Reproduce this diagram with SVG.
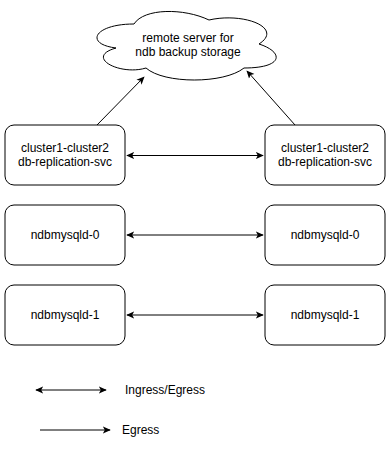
<svg xmlns="http://www.w3.org/2000/svg" width="392" height="451" viewBox="0 0 392 451">
<style>
.box{fill:#fff;stroke:#000;stroke-width:1}
.lbl{font-family:"Liberation Sans",Arial,sans-serif;font-size:12px;fill:#000;text-anchor:middle}
.leg{font-family:"Liberation Sans",Arial,sans-serif;font-size:12px;fill:#000}
.con{stroke:#000;stroke-width:1;fill:none}
</style>
<defs>
<marker id="ah" viewBox="0 0 10 10" refX="9" refY="5" markerWidth="8" markerHeight="8" markerUnits="userSpaceOnUse" orient="auto-start-reverse">
<path d="M0,0.5 L10,5 L0,9.5 L2.5,5 Z" fill="#000"/>
</marker>
</defs>
<rect width="392" height="451" fill="#fff"/>
<g id="cloud">
<path class="box" d="M134,24 C94,24 84,44 116,48 C84,57 120,76 146,68 C164,84 224,84 244,68 C284,68 284,52 259,44 C284,28 244,12 209,20 C184,8 144,8 134,24 Z"/>
<text class="lbl" x="188" y="42">remote server for</text>
<text class="lbl" x="188" y="56">ndb backup storage</text>
</g>
<g id="svc1">
<rect class="box" x="5" y="125" width="120" height="60" rx="9"/>
<text class="lbl" x="65" y="152">cluster1-cluster2</text>
<text class="lbl" x="65" y="166">db-replication-svc</text>
</g>
<g id="svc2">
<rect class="box" x="265" y="125" width="120" height="60" rx="9"/>
<text class="lbl" x="325" y="152">cluster1-cluster2</text>
<text class="lbl" x="325" y="166">db-replication-svc</text>
</g>
<g id="m0a">
<rect class="box" x="5" y="205" width="120" height="60" rx="9"/>
<text class="lbl" x="65" y="239">ndbmysqld-0</text>
</g>
<g id="m0b">
<rect class="box" x="265" y="205" width="120" height="60" rx="9"/>
<text class="lbl" x="325" y="239">ndbmysqld-0</text>
</g>
<g id="m1a">
<rect class="box" x="5" y="285" width="120" height="60" rx="9"/>
<text class="lbl" x="65" y="319">ndbmysqld-1</text>
</g>
<g id="m1b">
<rect class="box" x="265" y="285" width="120" height="60" rx="9"/>
<text class="lbl" x="325" y="319">ndbmysqld-1</text>
</g>
<g id="connectors">
<line class="con" x1="97" y1="125" x2="144" y2="77" marker-end="url(#ah)"/>
<line class="con" x1="295" y1="125" x2="247" y2="71" marker-end="url(#ah)"/>
<line class="con" x1="127" y1="155.5" x2="263" y2="155.5" marker-start="url(#ah)" marker-end="url(#ah)"/>
<line class="con" x1="127" y1="235" x2="263" y2="235" marker-start="url(#ah)" marker-end="url(#ah)"/>
<line class="con" x1="127" y1="315" x2="263" y2="315" marker-start="url(#ah)" marker-end="url(#ah)"/>
<line class="con" x1="36" y1="390" x2="106" y2="390" marker-start="url(#ah)" marker-end="url(#ah)"/>
<line class="con" x1="40" y1="430" x2="110" y2="430" marker-end="url(#ah)"/>
</g>
<g id="legend">
<text class="leg" x="125" y="394">Ingress/Egress</text>
<text class="leg" x="122" y="434">Egress</text>
</g>
</svg>
